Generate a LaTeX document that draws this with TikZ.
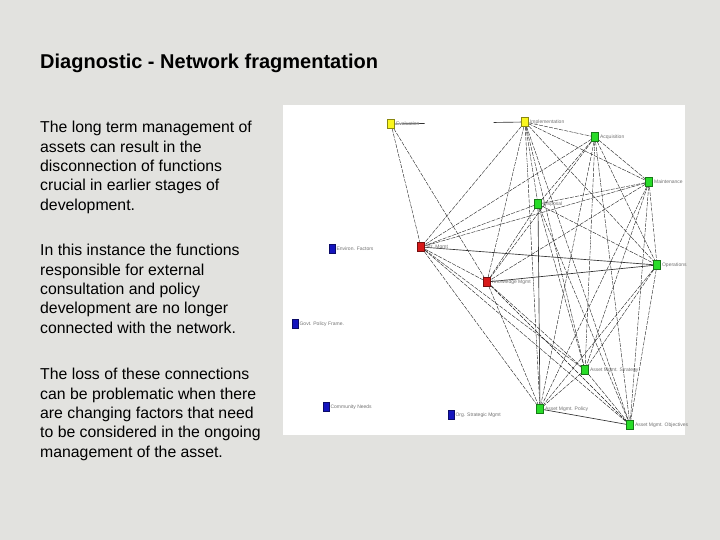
\documentclass[tikz,border=0pt]{standalone}
\usepackage{fontspec}
\setmainfont{Liberation Sans}
\usetikzlibrary{backgrounds}
\definecolor{slidebg}{RGB}{226,226,223}
\definecolor{nodegreen}{RGB}{40,220,40}
\definecolor{nodeyellow}{RGB}{250,245,30}
\definecolor{nodered}{RGB}{215,25,25}
\definecolor{nodeblue}{RGB}{20,20,190}
\begin{document}
\begin{tikzpicture}[x=1pt, y=-1pt,
  asset/.style={rectangle, draw=#1!55!black, fill=#1, minimum width=7pt, minimum height=9pt, inner sep=0pt},
  tag/.style={anchor=west, font=\fontsize{5}{6}\selectfont, text=gray!90!black, inner sep=1.2pt},
  link/.style={gray!25!black, line width=0.4pt, dash pattern=on 4pt off 1.2pt},
  solid link/.style={black!80, line width=0.65pt},
  para/.style={anchor=north west, inner sep=0pt, align=left, font=\fontsize{15.8}{19.4}\selectfont}]

% slide text
\node[anchor=base west, inner sep=0pt, font=\fontsize{20}{24}\selectfont\bfseries] (title) at (40,69) {Diagnostic - Network fragmentation};
\node[para] (p1) at (40,121) {The long term management of\\assets can result in the\\disconnection of functions\\crucial in earlier stages of\\development.};
\node[para] (p2) at (40,244) {In this instance the functions\\responsible for external\\consultation and policy\\development are no longer\\connected with the network.};
\node[para] (p3) at (40,368) {The loss of these connections\\can be problematic when there\\are changing factors that need\\to be considered in the ongoing\\management of the asset.};

% network
\node[asset=nodeyellow] (ev) at (391,124) {};
\node[tag] (ev-l) at (ev.east) {Evaluation};
\node[asset=nodeyellow] (im) at (525,122) {};
\node[tag] (im-l) at (im.east) {Implementation};
\node[asset=nodegreen] (acq) at (595,137) {};
\node[tag] (acq-l) at (acq.east) {Acquisition};
\node[asset=nodegreen] (mnt) at (649,182) {};
\node[tag] (mnt-l) at (mnt.east) {Maintenance};
\node[asset=nodegreen] (dsp) at (538,204) {};
\node[tag] (dsp-l) at (dsp.east) {Disposal};
\node[asset=nodered] (str) at (421,247) {};
\node[tag] (str-l) at (str.east) {Str. Mgmt};
\node[asset=nodeblue, minimum width=6pt] (env) at (332,249) {};
\node[tag] (env-l) at (env.east) {Environ. Factors};
\node[asset=nodegreen] (ops) at (657,265) {};
\node[tag] (ops-l) at (ops.east) {Operations};
\node[asset=nodered] (knw) at (487,282) {};
\node[tag] (knw-l) at (knw.east) {Knowledge Mgmt};
\node[asset=nodeblue, minimum width=6pt] (gov) at (295,324) {};
\node[tag] (gov-l) at (gov.east) {Govt. Policy Frame.};
\node[asset=nodegreen] (ams) at (585,370) {};
\node[tag] (ams-l) at (ams.east) {Asset Mgmt. Strategy};
\node[asset=nodeblue, minimum width=6pt] (com) at (326,407) {};
\node[tag] (com-l) at (com.east) {Community Needs};
\node[asset=nodeblue, minimum width=6pt] (org) at (451,415) {};
\node[tag] (org-l) at (org.east) {Org. Strategic Mgmt};
\node[asset=nodegreen] (amp) at (540,409) {};
\node[tag] (amp-l) at (amp.east) {Asset Mgmt. Policy};
\node[asset=nodegreen] (amo) at (630,425) {};
\node[tag] (amo-l) at (amo.east) {Asset Mgmt. Objectives};

\begin{scope}[on background layer]
\fill[slidebg] (0,0) rectangle (720,540);
\fill[white] (283,105) rectangle (685,435);

\draw[solid link, dash pattern=on 30pt off 69pt on 40pt] (ev) -- (im);
\path[link] (ev) edge (str) edge (knw);
\path[link] (im) edge (acq) edge (mnt) edge (dsp) edge (str) edge (ops) edge (knw) edge (ams) edge (amp) edge (amo);
\path[link] (acq) edge (mnt) edge (dsp) edge (str) edge (ops) edge (knw) edge (ams) edge (amp) edge (amo);
\path[link] (mnt) edge (dsp) edge (str) edge (ops) edge (knw) edge (ams) edge (amp) edge (amo);
\path[link] (dsp) edge (str) edge (ops) edge (knw) edge (ams) edge (amo);
\path[link] (str) edge (knw) edge (ams) edge (amp) edge (amo);
\path[link] (ops) edge (ams) edge (amp) edge (amo);
\path[link] (knw) edge (ams) edge (amp) edge (amo);
\path[link] (ams) edge (amp) edge (amo);
\path[solid link] (dsp) edge (amp);
\path[solid link] (str) edge (ops);
\path[solid link] (knw) edge (ops);
\path[solid link] (amp) edge (amo);
\end{scope}
\end{tikzpicture}
\end{document}
